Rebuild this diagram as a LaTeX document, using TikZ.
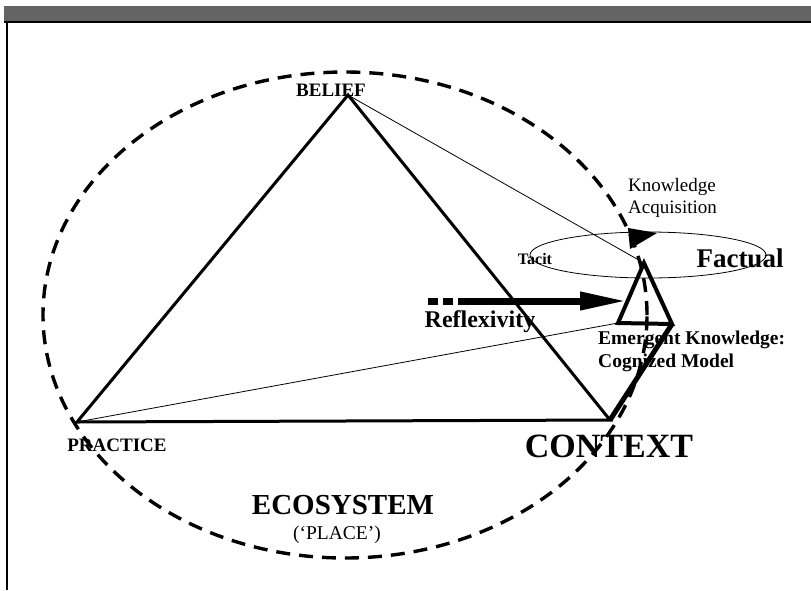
\documentclass[tikz,border=0pt]{standalone}
\usepackage{fontspec}
\setmainfont{Liberation Serif}
\usepackage{tikz}
\usetikzlibrary{shapes,arrows,positioning}
\usetikzlibrary{arrows.meta}
\definecolor{barGrey}{HTML}{636466}
\tikzset{every node/.style={inner sep=0pt}, % Text sits right on its point
         label/.style={font=\bfseries\fontsize{19}{19}\selectfont},
         plain/.style={font=\fontsize{19}{22}\selectfont, align=left},
         side/.style={line width=3pt},       % Sides of the big triangle
         thin link/.style={line width=0.8pt},
         eco/.style={ % Dashed ecosystem boundary
           line width=3.4pt,
           dash pattern=on 14pt off 9pt},
         reflex/.style={line width=7pt}}

\begin{document}
\begin{tikzpicture}[x=1pt, y=-1pt]
\useasboundingbox (0,0) rectangle (811,590);
\fill[barGrey] (4,6) rectangle (811,21);
\draw[line width=1.2pt] (4,22) -- (811,22);
\draw[line width=1.2pt] (7,22) -- (7,590);

\draw[eco] (345,315) ellipse [x radius=302pt, y radius=243pt];

\coordinate (belief) at (348,95);
\coordinate (practice) at (77,422);
\coordinate (context) at (610,420);
\coordinate (top) at (644,263);
\coordinate (left) at (618,323);
\coordinate (right) at (672,324);

\draw[side] (belief) -- (practice) -- (context) -- cycle;
\draw[thin link] (belief) -- (top);
\draw[thin link] (practice) -- (left);
\draw[line width=4pt, line join=miter] (top) -- (left) -- (right) -- cycle;
\draw[line width=5pt] (context) -- (right);

% small ellipse with its arrow
\draw[thin link] (648,255) ellipse [x radius=118pt, y radius=23pt];
\fill (657,233) -- (628,228) -- (630,249) -- cycle;

\coordinate (tail) at (428,301);
\coordinate (mid) at (458,301);
\coordinate (tip) at (627,301);
\draw[reflex, dash pattern=on 10pt off 5pt] (tail) -- (mid);
\draw[reflex, -{Triangle[length=47pt,width=17pt]}] (mid) -- (tip);

\node[label] (beliefLabel) at (331,90) {BELIEF};
\node[label] (practiceLabel) at (117,445) {PRACTICE};
\node[label, font=\bfseries\fontsize{34}{34}\selectfont] (contextLabel) at (609,446) {CONTEXT};
\node[label, font=\bfseries\fontsize{29}{29}\selectfont] (eco) at (343,505) {ECOSYSTEM};
\node[font=\fontsize{19.5}{19.5}\selectfont] (place) at (337,535) {(‘PLACE’)};
\node[plain, anchor=north west] (acq) at (628,178) {Knowledge\\Acquisition};
\node[label, font=\bfseries\fontsize{16}{16}\selectfont] (tacit) at (535,259) {Tacit};
\node[label, font=\bfseries\fontsize{27}{27}\selectfont] (factual) at (740,258) {Factual};
\node[label, font=\bfseries\fontsize{24}{24}\selectfont] (reflexivity) at (480,322) {Reflexivity};
\node[label, font=\bfseries\fontsize{19.5}{23}\selectfont, align=left, anchor=north west]
  (emergent) at (598,331) {Emergent Knowledge:\\Cognized Model};

\end{tikzpicture}
\end{document}
